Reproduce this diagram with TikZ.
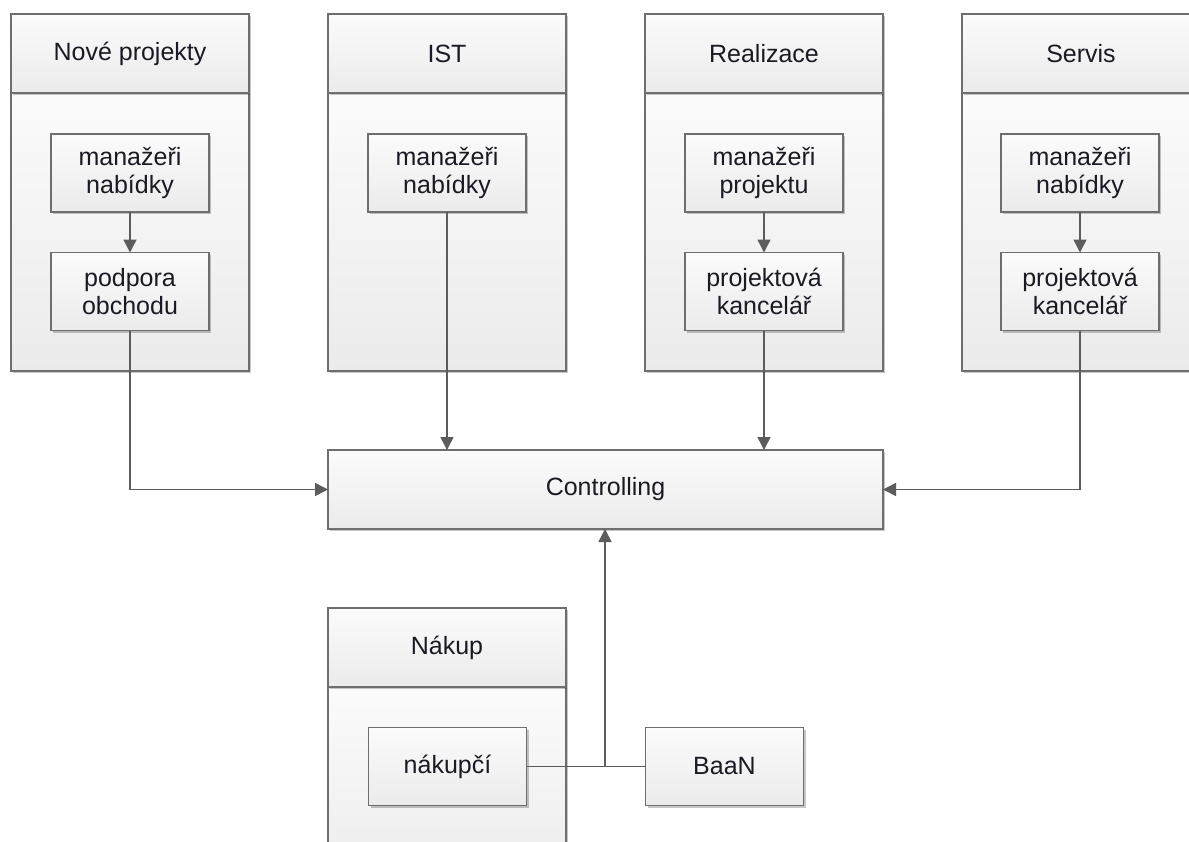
\documentclass[tikz,border=0pt]{standalone}
\usepackage{fontspec}
\setmainfont{Liberation Sans}
\usetikzlibrary{arrows.meta,shadows}
\definecolor{edge}{HTML}{6E6E6E}
\definecolor{wire}{HTML}{5C5C5C}
\definecolor{ink}{HTML}{1A1A24}
\definecolor{boxtop}{HTML}{FBFBFB}
\definecolor{boxbot}{HTML}{EBEBEB}
\begin{document}
\begin{tikzpicture}[x=1pt,y=-1pt,
  box/.style={draw=edge, line width=1.5pt, top color=boxtop, bottom color=boxbot,
    inner sep=0pt, outer sep=0pt, text=ink, align=center,
    font=\fontsize{25}{28}\selectfont,
    drop shadow={shadow xshift=2pt, shadow yshift=-2pt, opacity=0.22, fill=black}},
  lane/.style={box, minimum width=238pt},
  head/.style={lane, minimum height=79pt},
  item/.style={box, minimum width=158pt, minimum height=78pt},
  flow/.style={draw=wire, line width=1.5pt, -{Triangle[length=13pt,width=13pt]}},
  link/.style={draw=wire, line width=1.5pt}]

\useasboundingbox (0,0) rectangle (1189,841);
\fill[white] (0,0) rectangle (1189,841);
\clip (0,0) rectangle (1189,841);

% Nove projekty
\node[lane, minimum height=278pt] (npB) at (130,232) {};
\node[head] (npH) at (130,53.5) {Nové projekty};
\node[item] (npM) at (130,173) {manažeři\\nabídky};
\node[item] (npP) at (130,291.5) {podpora\\obchodu};

% IST
\node[lane, minimum height=278pt] (istB) at (447,232) {};
\node[head] (istH) at (447,53.5) {IST};
\node[item] (istM) at (447,173) {manažeři\\nabídky};

% Realizace
\node[lane, minimum height=278pt] (reB) at (764,232) {};
\node[head] (reH) at (764,53.5) {Realizace};
\node[item] (reM) at (764,173) {manažeři\\projektu};
\node[item] (reP) at (764,291.5) {projektová\\kancelář};

% Servis
\node[lane, minimum height=278pt] (svB) at (1081,232) {};
\node[head] (svH) at (1081,53.5) {Servis};
\node[item] (svM) at (1080,173) {manažeři\\nabídky};
\node[item] (svP) at (1080,291.5) {projektová\\kancelář};

% Controlling
\node[box, minimum width=555pt, minimum height=79pt] (ctl) at (605.5,489.5) {Controlling};

% Nakup
\node[lane, minimum height=213pt] (nkB) at (447,793.5) {};
\node[head] (nkH) at (447,647.5) {Nákup};
\node[item] (nk) at (447.5,766.5) {nákupčí};
\node[item] (baan) at (724.5,766.5) {BaaN};

% connectors
\draw[flow] (npM) -- (npP);
\draw[flow] (npP.south) |- (ctl.west);
\draw[flow] (istM.south) -- (istM.south |- ctl.north);
\draw[flow] (reM) -- (reP);
\draw[flow] (reP.south) -- (reP.south |- ctl.north);
\draw[flow] (svM) -- (svP);
\draw[flow] (svP.south) |- (ctl.east);
\coordinate (jn) at (605,766.5);
\draw[link] (nk.east) -- (baan.west);
\draw[flow] (jn) -- (jn |- ctl.south);
\end{tikzpicture}
\end{document}
